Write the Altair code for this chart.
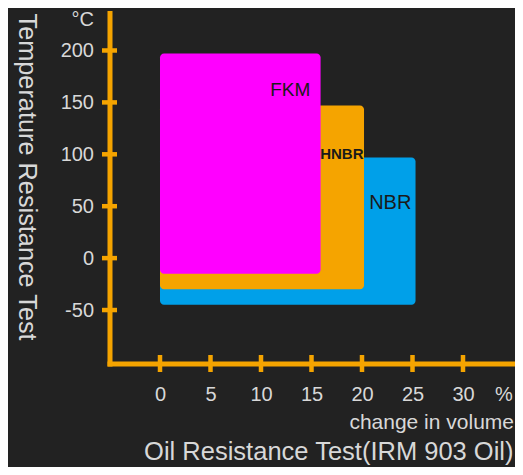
import altair as alt
import pandas as pd

# ---- data ----
materials = ["NBR", "HNBR", "FKM"]
vol_min = [0, 0, 0]
vol_max = [25.3, 20.2, 15.9]
temp_min = [-45, -30, -15]
temp_max = [97, 147, 197]
fills = ["#00a0e9", "#f5a400", "#ff00ff"]

label_x = [22.8, 18.0, 12.9]
label_y = [53.5, 100, 162]

x_ticks = [0, 5, 10, 15, 20, 25, 30]
y_ticks = [-50, 0, 50, 100, 150, 200]
x_unit, x_unit_pos = "%", 34
y_unit, y_unit_pos = "°C", 230

x_title = "change in volume"
y_title = "Temperature Resistance Test"
main_title = "Oil Resistance Test(IRM 903 Oil)"

# ---- styling ----
BG = "#222222"
ORANGE = "#f5a400"
TXT = "#d8d8d8"
FONT = "Liberation Sans"
W, H = 404, 350.5

df = pd.DataFrame({"material": materials, "x1": vol_min, "x2": vol_max,
                   "y1": temp_min, "y2": temp_max})
labels = pd.DataFrame({"material": materials, "lx": label_x, "ly": label_y})

xscale = alt.Scale(domain=[-5, 35], nice=False, zero=False)
yscale = alt.Scale(domain=[-101.5, 236.1], nice=False, zero=False)

xaxis = alt.Axis(
    values=x_ticks + [x_unit_pos],
    labelExpr=f"datum.value == {x_unit_pos} ? '{x_unit}' : '' + datum.value",
    grid=False, ticks=False, domainColor=ORANGE, domainWidth=5, domainCap="square",
    labelColor=TXT, labelFont=FONT, labelFontSize=20, labelPadding=21,
    labelOverlap=False, labelFlush=False, labelBound=False,
    title=x_title, titleX=W, titleY=64.5, titleAlign="right", titleBaseline="alphabetic",
    titleFont=FONT, titleFontSize=21, titleFontWeight="normal", titleColor=TXT,
)
yaxis = alt.Axis(
    values=y_ticks + [y_unit_pos],
    labelExpr=f"datum.value == {y_unit_pos} ? '{y_unit}' : '' + datum.value",
    grid=False, ticks=False, domainColor=ORANGE, domainWidth=5, domainCap="square",
    labelColor=TXT, labelFont=FONT, labelFontSize=20, labelPadding=16,
    labelOverlap=False, labelFlush=False, labelBound=False,
    title=y_title, titleAngle=90, titleX=-91.5, titleY=0, titleAlign="left",
    titleBaseline="alphabetic", titleFont=FONT, titleFontSize=25.3,
    titleFontWeight="normal", titleColor=TXT,
)

rects = alt.Chart(df).mark_rect(cornerRadius=4).encode(
    x=alt.X("x1:Q", scale=xscale, axis=xaxis),
    x2="x2:Q",
    y=alt.Y("y1:Q", scale=yscale, axis=yaxis),
    y2="y2:Q",
    color=alt.Color("material:N", scale=alt.Scale(domain=materials, range=fills), legend=None),
)

text_layers = []
styles = {"NBR": (20, "normal"), "HNBR": (15, "bold"), "FKM": (19, "normal")}
for m in materials:
    size, weight = styles[m]
    text_layers.append(
        alt.Chart(labels[labels.material == m]).mark_text(
            font=FONT, fontSize=size, fontWeight=weight, color="#1a1a1a",
            align="center", baseline="middle",
        ).encode(
            x=alt.X("lx:Q", scale=xscale, axis=xaxis),
            y=alt.Y("ly:Q", scale=yscale, axis=yaxis),
            text="material:N",
        )
    )

xt = alt.Chart(pd.DataFrame({"v": x_ticks})).mark_tick(
    orient="vertical", color=ORANGE, thickness=4.5, size=17, opacity=1
).encode(x=alt.X("v:Q", scale=xscale, axis=xaxis), y=alt.value(H))

yt = alt.Chart(pd.DataFrame({"v": y_ticks})).mark_tick(
    orient="horizontal", color=ORANGE, thickness=4.5, size=15, opacity=1
).encode(y=alt.Y("v:Q", scale=yscale, axis=yaxis), x=alt.value(0))

chart = alt.layer(rects, *text_layers, xt, yt).properties(
    width=W, height=H,
    title=alt.TitleParams(main_title, orient="bottom", anchor="end", frame="group",
                          offset=8, font=FONT, fontSize=25.5, fontWeight="normal",
                          color=TXT),
    autosize=alt.AutoSizeParams(type="none"),
    padding={"left": 101.5, "top": 5, "right": 1.5, "bottom": 103.5},
    background=BG,
).configure_view(stroke=None)

chart.save("out.html", embed_options={"renderer": "svg", "actions": False})
